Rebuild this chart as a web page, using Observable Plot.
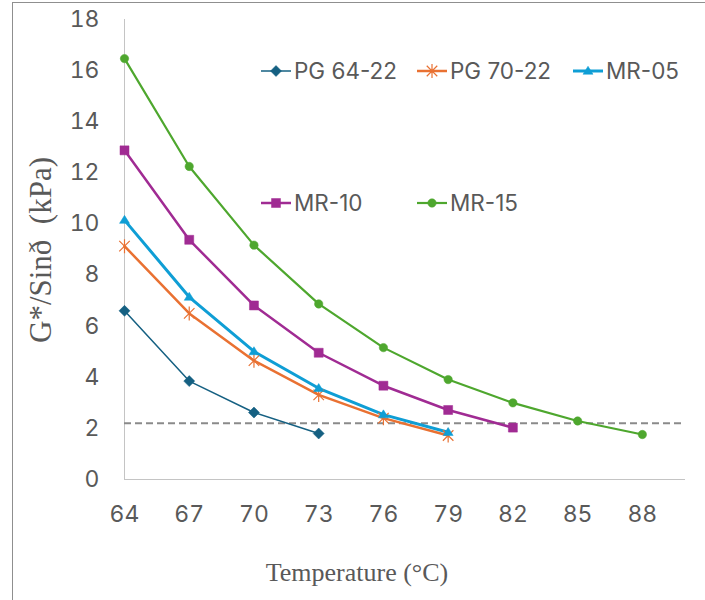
<!DOCTYPE html>
<html>
<head>
<meta charset="utf-8">
<script src="https://cdn.jsdelivr.net/npm/d3@7"></script>
<script src="https://cdn.jsdelivr.net/npm/@observablehq/plot@0.6"></script>
<style>
  html, body { margin: 0; padding: 0; background: #fff; overflow: hidden; width: 705px; height: 600px; }
  #wrap { position: relative; width: 705px; height: 600px; }
  #frame { position: absolute; left: 12px; top: 2px; width: 760px; height: 700px; border: 1px solid #8f8f8f; pointer-events: none; }
  #chart { position: absolute; left: 0; top: 0; }
</style>
</head>
<body>
<div id="wrap"><div id="chart"></div><div id="frame"></div></div>
<script>
// ---- data ----
const temperatures = [64, 67, 70, 73, 76, 79, 82, 85, 88];
const seriesNames = ["PG 64-22", "PG 70-22", "MR-05", "MR-10", "MR-15"];
const pg6422 = [6.6, 3.85, 2.62, 1.8];
const pg7022 = [9.13, 6.5, 4.65, 3.31, 2.4, 1.72];
const mr05 = [10.15, 7.14, 5.01, 3.57, 2.54, 1.85];
const mr10 = [12.88, 9.38, 6.81, 4.96, 3.67, 2.72, 2.03];
const mr15 = [16.47, 12.25, 9.17, 6.87, 5.16, 3.91, 3.0, 2.29, 1.76];
const threshold = 2.2;
const xTicks = [64, 67, 70, 73, 76, 79, 82, 85, 88];
const yTicks = [0, 2, 4, 6, 8, 10, 12, 14, 16, 18];
const xTitle = "Temperature (°C)";
const yTitle = "G*/Sinð  (kPa)";

// ---- styles ----
const colors = ["#156082", "#E97132", "#0F9ED5", "#A02B93", "#4EA72E"];
const widths = [1.5, 2.5, 3, 2.5, 2.2];

const sym = {
  diamond: { draw(c, size) { const r = Math.sqrt(size / Math.PI); c.moveTo(0, -r); c.lineTo(r, 0); c.lineTo(0, r); c.lineTo(-r, 0); c.closePath(); } },
  star: { draw(c, size) { const r = Math.sqrt(size / Math.PI); const d = r * 0.75;
    c.moveTo(0, -r); c.lineTo(0, r); c.moveTo(-d, -d); c.lineTo(d, d); c.moveTo(-d, d); c.lineTo(d, -d); } },
  triangle: { draw(c, size) { const r = Math.sqrt(size / Math.PI); c.moveTo(0, -r * 0.95); c.lineTo(r, r * 0.65); c.lineTo(-r, r * 0.65); c.closePath(); } },
  square: { draw(c, size) { const r = Math.sqrt(size / Math.PI); c.rect(-r, -r, 2 * r, 2 * r); } },
  circle: { draw(c, size) { const r = Math.sqrt(size / Math.PI); c.moveTo(r, 0); c.arc(0, 0, r, 0, 2 * Math.PI); } }
};
const markers = [
  { symbol: sym.diamond, r: 5.5, filled: true },
  { symbol: sym.star, r: 7, filled: false },
  { symbol: sym.triangle, r: 5, filled: true },
  { symbol: sym.square, r: 4.5, filled: true },
  { symbol: sym.circle, r: 4.2, filled: true }
];

const seriesValues = [pg6422, pg7022, mr05, mr10, mr15];
const tables = seriesValues.map((vals, i) => vals.map((v, j) => ({ series: seriesNames[i], t: temperatures[j], v })));

const font = "Inter, 'DejaVu Sans', sans-serif";

const marks = [
  Plot.ruleX([64], { stroke: "#c4c4c4", strokeWidth: 1 }),
  Plot.ruleY([0], { stroke: "#c4c4c4", strokeWidth: 1 }),
  Plot.ruleY([threshold], { stroke: "#8a8a8a", strokeWidth: 2, strokeDasharray: "7,4" }),
  Plot.axisY({ ticks: yTicks, tickSize: 0, tickPadding: 25, label: null, fontSize: 23, fill: "#595959" }),
  Plot.axisX({ ticks: xTicks, tickSize: 0, tickPadding: 26, label: null, fontSize: 23, fill: "#595959" })
];
tables.forEach((tbl, i) => {
  marks.push(Plot.line(tbl, { x: "t", y: "v", stroke: colors[i], strokeWidth: widths[i] }));
});
tables.forEach((tbl, i) => {
  const m = markers[i];
  marks.push(Plot.dot(tbl, {
    x: "t", y: "v", symbol: m.symbol, r: m.r,
    fill: m.filled ? colors[i] : "none", stroke: colors[i], strokeWidth: m.filled ? 0.5 : 1.2
  }));
});

const chart = Plot.plot({
  width: 705, height: 600,
  marginLeft: 124, marginRight: 20, marginTop: 19, marginBottom: 121,
  x: { domain: [64, 90] },
  y: { domain: [0, 18] },
  style: { fontFamily: font, color: "#595959", background: "transparent", overflow: "visible" },
  marks
});

// ---- titles and legend (layout) ----
const svg = d3.select(chart);
svg.append("text").text(xTitle)
  .attr("x", 357).attr("y", 581)
  .attr("text-anchor", "middle")
  .style("font-family", "'Liberation Serif', 'Times New Roman', serif")
  .style("font-size", "26px").attr("fill", "#595959");
svg.append("text").text(yTitle)
  .attr("transform", "translate(51,250) rotate(-90)")
  .attr("text-anchor", "middle")
  .style("white-space", "pre")
  .style("font-family", "'Liberation Serif', 'Times New Roman', serif")
  .style("font-size", "31px").attr("fill", "#595959");

const legendPos = [[261, 71], [417, 71], [573, 71], [261, 203], [417, 203]];
seriesNames.forEach((name, i) => {
  const [lx, ly] = legendPos[i];
  const g = svg.append("g");
  g.append("line").attr("x1", lx).attr("x2", lx + 30).attr("y1", ly).attr("y2", ly)
    .attr("stroke", colors[i]).attr("stroke-width", widths[i]);
  const m = markers[i];
  const p = d3.path();
  m.symbol.draw(p, m.r * m.r * Math.PI);
  g.append("path").attr("d", p.toString()).attr("transform", `translate(${lx + 15},${ly})`)
    .attr("fill", m.filled ? colors[i] : "none").attr("stroke", colors[i]).attr("stroke-width", m.filled ? 0.5 : 1.2);
  g.append("text").text(name).attr("x", lx + 33).attr("y", ly).attr("dy", "0.36em")
    .attr("text-anchor", "start")
    .style("font-family", font).style("font-size", "22.5px").attr("fill", "#595959");
});

document.getElementById("chart").appendChild(chart);
</script>
</body>
</html>
